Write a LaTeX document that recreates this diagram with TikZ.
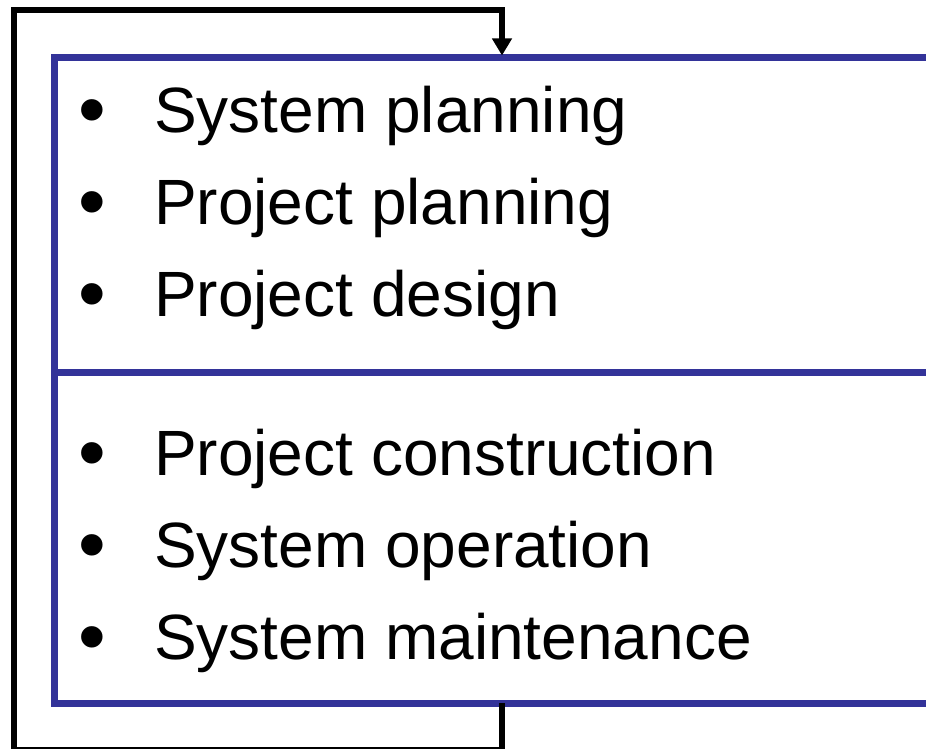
\documentclass[tikz,border=0pt]{standalone}
\usepackage{fontspec}
\setmainfont{Liberation Sans}
\usetikzlibrary{arrows.meta}
\definecolor{boxblue}{HTML}{333399}
\begin{document}
\begin{tikzpicture}[x=1pt,y=-1pt,
  bluebox/.style={draw=boxblue, line width=7pt, rectangle, inner sep=0pt, outer sep=0pt},
  fb/.style={draw=black, line width=5.5pt},
  item/.style={anchor=base west, inner sep=0pt, font=\fontsize{64}{77}\selectfont},
  bul/.style={anchor=base, inner sep=0pt, font=\fontsize{79}{90}\selectfont}]
\useasboundingbox (0,0) rectangle (926,749);
\begin{scope}
\clip (0,0) rectangle (926,749);
\node[bluebox, minimum width=906pt, minimum height=314.5pt] (top) at (507,215.25) {};
\node[bluebox, minimum width=906pt, minimum height=330.5pt] (bot) at (507,537.75) {};
\coordinate (fx) at (502,0);
\coordinate (bl) at (14,750);
\coordinate (tl) at (14,10);
\draw[fb, -{Triangle[width=19pt,length=17pt]}, shorten >=2.5pt]
  (bot.south -| fx) |- (bl) -- (tl) -| (top.north -| fx);
\node[bul] (b1) at (92.5,137) {•};
\node[item] (t1) at (154,132.5) {System planning};
\node[bul] (b2) at (92.5,228.5) {•};
\node[item] (t2) at (154,224) {Project planning};
\node[bul] (b3) at (92.5,320.5) {•};
\node[item] (t3) at (154,316) {Project design};
\node[bul] (b4) at (92.5,479.5) {•};
\node[item] (t4) at (154,475) {Project construction};
\node[bul] (b5) at (92.5,571.5) {•};
\node[item] (t5) at (154,567) {System operation};
\node[bul] (b6) at (92.5,663.5) {•};
\node[item] (t6) at (154,659) {System maintenance};
\end{scope}
\end{tikzpicture}
\end{document}
